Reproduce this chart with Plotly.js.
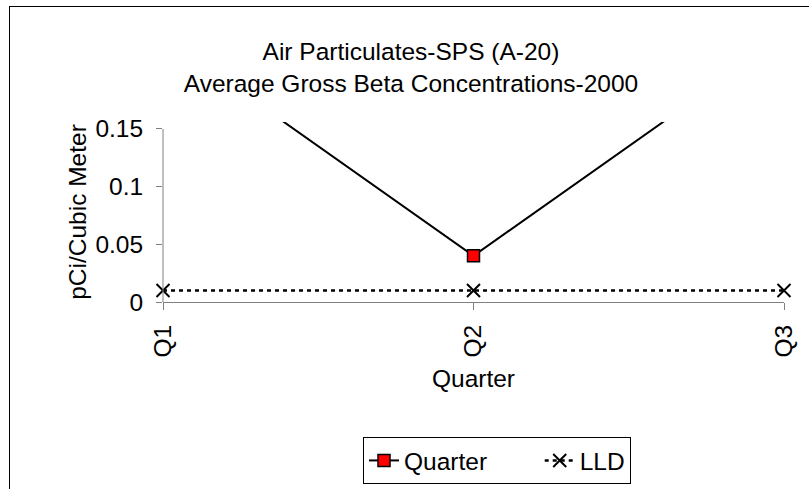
<!DOCTYPE html>
<html>
<head>
<meta charset="utf-8">
<script src="https://cdn.plot.ly/plotly-3.0.1.min.js"></script>
<style>
  html, body { margin: 0; padding: 0; background: #fff; overflow: hidden; }
  #chart { position: absolute; left: 0; top: 0; width: 809px; height: 489px; }
  #frame { position: absolute; left: 9px; top: 6px; width: 900px; height: 600px;
           border: 1px solid #000; pointer-events: none; }
</style>
</head>
<body>
<div id="chart"></div>
<div id="frame"></div>
<script>
const categories = ['Q1', 'Q2', 'Q3'];
const quarterValues = [0.23, 0.04, 0.23];
const lldValues = [0.01, 0.01, 0.01];
const yTickVals = [0, 0.05, 0.1, 0.15];
const yTickText = ['0', '0.05', '0.1', '0.15'];
const seriesNames = ['Quarter', 'LLD'];

const FONT = 'Liberation Sans, Arial, sans-serif';
const FS = 24.5;
const PAD = '\u00a0'.repeat(7);

const traces = [
  {
    name: seriesNames[0] + PAD,
    x: categories,
    y: quarterValues,
    type: 'scatter',
    mode: 'lines+markers',
    line: { color: '#000000', width: 2 },
    marker: { symbol: 'square', size: 12, color: '#ff0000', line: { color: '#000000', width: 1.5 } }
  },
  {
    name: seriesNames[1],
    x: categories,
    y: lldValues,
    type: 'scatter',
    mode: 'lines+markers',
    cliponaxis: false,
    line: { color: '#000000', width: 2.5, dash: '4px,4px' },
    marker: { symbol: 'x-thin-open', size: 13, color: '#000000', line: { color: '#000000', width: 2 } }
  }
];

const layout = {
  width: 809,
  height: 489,
  paper_bgcolor: '#ffffff',
  plot_bgcolor: '#ffffff',
  font: { family: FONT, size: FS, color: '#000000' },
  margin: { l: 163, r: 25, t: 122, b: 187, pad: 0 },
  title: {
    text: 'Air Particulates-SPS (A-20)<br>Average Gross Beta Concentrations-2000',
    font: { family: FONT, size: FS, color: '#000000' },
    xref: 'container', x: 0.508, xanchor: 'center',
    yref: 'container', y: 0.878, yanchor: 'top'
  },
  xaxis: {
    type: 'category',
    range: [0, 2],
    showline: true, linecolor: '#808080', linewidth: 1,
    showgrid: false, zeroline: false,
    ticks: 'outside', ticklen: 7, tickcolor: '#808080', tickwidth: 1,
    tickangle: -90,
    ticklabelstandoff: 5,
    tickfont: { family: FONT, size: FS, color: '#000000' },
    title: { text: 'Quarter', font: { family: FONT, size: FS, color: '#000000' }, standoff: 13 }
  },
  yaxis: {
    range: [0, 0.156],
    showline: false,
    showgrid: false, zeroline: false,
    tickvals: yTickVals, ticktext: yTickText,
    ticks: 'outside', ticklen: 6, tickcolor: '#808080', tickwidth: 1,
    ticklabelstandoff: 8,
    tickfont: { family: FONT, size: FS, color: '#000000' },
    title: { text: 'pCi/Cubic Meter', font: { family: FONT, size: FS, color: '#000000' }, standoff: 1 }
  },
  shapes: [
    { type: 'line', xref: 'paper', x0: 0, x1: 0, yref: 'y', y0: 0, y1: yTickVals[yTickVals.length - 1],
      line: { color: '#808080', width: 1 } }
  ],
  showlegend: true,
  legend: {
    orientation: 'h',
    xref: 'container', x: 363 / 809, xanchor: 'left',
    yref: 'container', y: 1 - 437 / 489, yanchor: 'top',
    bordercolor: '#000000', borderwidth: 1,
    bgcolor: '#ffffff',
    font: { family: FONT, size: FS, color: '#000000' }
  }
};

Plotly.newPlot('chart', traces, layout, { displayModeBar: false, staticPlot: true });
</script>
</body>
</html>
